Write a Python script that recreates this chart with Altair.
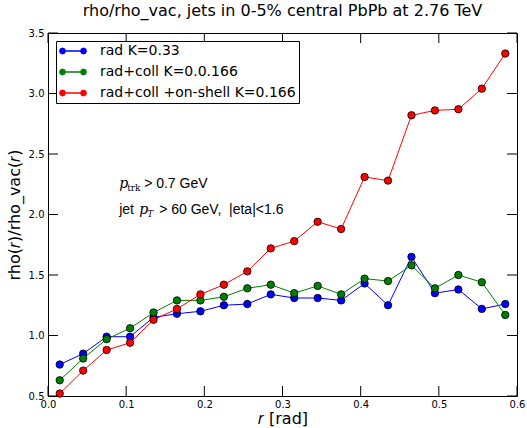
import altair as alt
import pandas as pd

# ---- data ----
r_vals = [0.015, 0.045, 0.075, 0.105, 0.135, 0.165, 0.195, 0.225, 0.255, 0.285,
          0.315, 0.345, 0.375, 0.405, 0.435, 0.465, 0.495, 0.525, 0.555, 0.585]
rad = [0.76, 0.85, 0.99, 0.99, 1.15, 1.18, 1.20, 1.25, 1.26, 1.34,
       1.31, 1.31, 1.29, 1.43, 1.25, 1.65, 1.35, 1.38, 1.22, 1.26]
rad_coll = [0.63, 0.81, 0.97, 1.06, 1.19, 1.29, 1.29, 1.32, 1.39, 1.42,
            1.35, 1.41, 1.34, 1.47, 1.45, 1.58, 1.39, 1.50, 1.44, 1.17]
rad_coll_onshell = [0.52, 0.71, 0.88, 0.94, 1.13, 1.22, 1.34, 1.42, 1.53, 1.72,
                    1.78, 1.94, 1.88, 2.31, 2.28, 2.82, 2.86, 2.87, 3.04, 3.33]
series_names = ["rad K=0.33", "rad+coll K=0.0.166", "rad+coll +on-shell K=0.166"]
series_colors = ["#0000ff", "#008000", "#ff0000"]
x_ticks = [0.0, 0.1, 0.2, 0.3, 0.4, 0.5, 0.6]
y_ticks = [0.5, 1.0, 1.5, 2.0, 2.5, 3.0, 3.5]
ann_x = [0.091]
ann_y = [2.25, 2.04]

rows = []
for name, col, vals in zip(series_names, series_colors, [rad, rad_coll, rad_coll_onshell]):
    for i, (x, y) in enumerate(zip(r_vals, vals)):
        rows.append({"r": x, "v": y, "series": name, "col": col, "idx": i})
df = pd.DataFrame(rows)
xt_df = pd.DataFrame({"xt": x_ticks})
yt_df = pd.DataFrame({"yt": y_ticks})

W, H = 469, 363
TICK = 10

LEG_PATH = ("M-0.75,-0.045L0.75,-0.045L0.75,0.045L-0.75,0.045Z"
            "M-1,0L-0.93,-0.18L-0.75,-0.25L-0.57,-0.18L-0.5,0L-0.57,0.18L-0.75,0.25L-0.93,0.18Z"
            "M0.5,0L0.57,-0.18L0.75,-0.25L0.93,-0.18L1,0L0.93,0.18L0.75,0.25L0.57,0.18Z")

x_scale = alt.Scale(domain=[0, 0.6], nice=False, zero=False)
y_scale = alt.Scale(domain=[0.5, 3.5], nice=False, zero=False)

x_enc = alt.X(
    "r:Q", scale=x_scale,
    axis=alt.Axis(
        values=x_ticks, format=".1f", title="𝑟 [rad]", ticks=False, domain=False, grid=False,
        labelFont="DejaVu Sans", labelFontSize=10, labelColor="black", labelPadding=3,
        labelFlush=False, labelOverlap=False,
        titleFont="DejaVu Sans", titleFontSize=16, titleColor="black", titleFontWeight="normal",
        titleY=22, titleBaseline="middle",
    ),
)
y_enc = alt.Y(
    "v:Q", scale=y_scale,
    axis=alt.Axis(
        values=y_ticks, format=".1f", title="rho(𝑟)/rho_vac(𝑟)", ticks=False, domain=False, grid=False,
        labelFont="DejaVu Sans", labelFontSize=10, labelColor="black", labelPadding=4,
        labelFlush=False, labelOverlap=False,
        titleFont="DejaVu Sans", titleFontSize=16, titleColor="black", titleFontWeight="normal",
        titleX=-34, titleY=H / 2, titleAngle=-90, titleAlign="center", titleBaseline="middle",
    ),
)

# inward ticks on all four sides (matplotlib classic look), drawn as short rules
def vrule(y0, y1):
    return alt.Chart(xt_df).mark_rule(color="black", strokeWidth=1, opacity=1).encode(
        x=alt.X("xt:Q", scale=x_scale), y=alt.value(y0), y2=alt.value(y1))

def hrule(x0, x1):
    return alt.Chart(yt_df).mark_rule(color="black", strokeWidth=1, opacity=1).encode(
        y=alt.Y("yt:Q", scale=y_scale), x=alt.value(x0), x2=alt.value(x1))

ticks = [vrule(H - TICK, H), vrule(0, TICK), hrule(0, TICK), hrule(W - TICK, W)]

base = alt.Chart(df)
lines = base.mark_line(strokeWidth=1).encode(
    x=x_enc, y=y_enc,
    stroke=alt.Stroke("col:N", scale=None),
    detail="series:N", order="idx:Q")
points = base.mark_point(filled=True, shape="circle", size=55, stroke="black",
                         strokeWidth=0.8, opacity=1).encode(
    x="r:Q", y="v:Q",
    color=alt.Color(
        "series:N",
        scale=alt.Scale(domain=series_names, range=series_colors),
        sort=series_names,
        legend=alt.Legend(
            title=None, orient="top-left", offset=8,
            symbolType=LEG_PATH, symbolSize=784, symbolStrokeWidth=0, symbolOpacity=1,
            clipHeight=14, rowPadding=7, labelLimit=400,
            labelFont="DejaVu Sans", labelFontSize=14, labelColor="black", labelOffset=13,
            padding=3, strokeColor="black", fillColor="white", cornerRadius=0,
        ),
    ))

ann_df1 = pd.DataFrame({"x": [ann_x[0]], "y": [ann_y[0]]})
ann_df2 = pd.DataFrame({"x": [ann_x[0]], "y": [ann_y[1]]})

def txt(d, text, dx, dy=0, font="Liberation Sans", size=14, style="normal"):
    return alt.Chart(d).mark_text(
        text=text, dx=dx, dy=dy, align="left", baseline="middle", font=font,
        fontSize=size, fontStyle=style, color="black").encode(x="x:Q", y="y:Q")

ann = [
    txt(ann_df1, "p", 0, 0, "DejaVu Serif", 14, "italic"),
    txt(ann_df1, "trk", 8, 4, "DejaVu Serif", 9),
    txt(ann_df1, "> 0.7 GeV", 25),
    txt(ann_df2, "jet", 0),
    txt(ann_df2, "p", 20, 0, "DejaVu Serif", 14, "italic"),
    txt(ann_df2, "T", 28, 4, "DejaVu Serif", 9, "italic"),
    txt(ann_df2, "> 60 GeV,\u00a0 |eta|<1.6", 40),
]

chart = alt.layer(lines, points, *ann, *ticks).properties(
    width=W, height=H,
    title=alt.TitleParams("rho/rho_vac, jets in 0-5% central PbPb at 2.76 TeV",
                          font="DejaVu Sans", fontSize=16, fontWeight="normal",
                          color="black", anchor="middle", offset=9),
    autosize=alt.AutoSizeParams(type="none"),
    padding={"left": 48, "top": 33, "right": 10, "bottom": 32},
).configure_view(stroke="black", strokeWidth=1)

chart.save("out.html", embed_options={"renderer": "svg", "actions": False})
